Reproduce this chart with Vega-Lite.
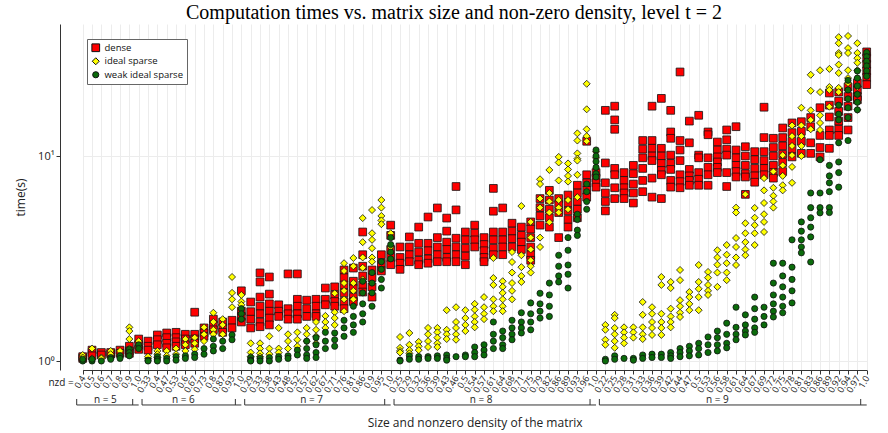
{
"$schema":"https://vega.github.io/schema/vega-lite/v6.json",
"width":826,"height":346,
"autosize":{"type":"none"},
"padding":{"left":60,"top":24,"right":2,"bottom":63},
"background":"white",
"title":{"text":"Computation times vs. matrix size and non-zero density, level t = 2","font":"Liberation Serif","fontSize":20,"fontWeight":"normal","anchor":"middle","frame":"group","dx":-19,"offset":1,"color":"black"},
"config":{"view":{"stroke":null},"axis":{"domainColor":"#333","tickColor":"#333","gridColor":"#ececec","labelColor":"#222","titleColor":"#222","labelFont":"Open Sans","titleFont":"Open Sans","titleFontWeight":"normal"}},
"layer":[
{"data":{"values":[
{"x":"5|0.4","s":"d","t":1.05},{"x":"5|0.4","s":"d","t":1.03},{"x":"5|0.4","s":"i","t":1.07},{"x":"5|0.4","s":"i","t":1.04},{"x":"5|0.4","s":"w","t":1.0},{"x":"5|0.4","s":"w","t":1.02},
{"x":"5|0.5","s":"d","t":1.10},{"x":"5|0.5","s":"d","t":1.13},{"x":"5|0.5","s":"d","t":1.06},{"x":"5|0.5","s":"i","t":1.15},{"x":"5|0.5","s":"i","t":1.03},{"x":"5|0.5","s":"w","t":1.0},{"x":"5|0.5","s":"w","t":1.02},
{"x":"5|0.6","s":"d","t":1.10},{"x":"5|0.6","s":"d","t":1.07},{"x":"5|0.6","s":"i","t":1.04},{"x":"5|0.6","s":"i","t":1.03},{"x":"5|0.6","s":"w","t":1.0},
{"x":"5|0.7","s":"d","t":1.08},{"x":"5|0.7","s":"d","t":1.10},{"x":"5|0.7","s":"i","t":1.12},{"x":"5|0.7","s":"i","t":1.08},{"x":"5|0.7","s":"w","t":1.04},{"x":"5|0.7","s":"w","t":1.02},
{"x":"5|0.8","s":"d","t":1.13},{"x":"5|0.8","s":"d","t":1.09},{"x":"5|0.8","s":"i","t":1.12},{"x":"5|0.8","s":"i","t":1.06},{"x":"5|0.8","s":"w","t":1.06},{"x":"5|0.8","s":"w","t":1.03},
{"x":"5|0.9","s":"d","t":1.18},{"x":"5|0.9","s":"d","t":1.12},{"x":"5|0.9","s":"d","t":1.09},{"x":"5|0.9","s":"i","t":1.46},{"x":"5|0.9","s":"i","t":1.40},{"x":"5|0.9","s":"i","t":1.28},{"x":"5|0.9","s":"i","t":1.15},{"x":"5|0.9","s":"w","t":1.14},{"x":"5|0.9","s":"w","t":1.10},{"x":"5|0.9","s":"w","t":1.06},
{"x":"5|1.0","s":"d","t":1.28},{"x":"5|1.0","s":"d","t":1.20},{"x":"5|1.0","s":"d","t":1.14},{"x":"5|1.0","s":"i","t":1.25},{"x":"5|1.0","s":"i","t":1.18},{"x":"5|1.0","s":"w","t":1.2},{"x":"5|1.0","s":"w","t":1.15},
{"x":"6|0.33","s":"d","t":1.25},{"x":"6|0.33","s":"d","t":1.18},{"x":"6|0.33","s":"d","t":1.13},{"x":"6|0.33","s":"i","t":1.03},{"x":"6|0.33","s":"i","t":1.05},{"x":"6|0.33","s":"w","t":1.01},{"x":"6|0.33","s":"w","t":1.0},
{"x":"6|0.4","s":"d","t":1.34},{"x":"6|0.4","s":"d","t":1.27},{"x":"6|0.4","s":"d","t":1.2},{"x":"6|0.4","s":"i","t":1.12},{"x":"6|0.4","s":"i","t":1.08},{"x":"6|0.4","s":"i","t":1.04},{"x":"6|0.4","s":"w","t":1.05},{"x":"6|0.4","s":"w","t":1.02},{"x":"6|0.4","s":"w","t":1.0},
{"x":"6|0.47","s":"d","t":1.37},{"x":"6|0.47","s":"d","t":1.3},{"x":"6|0.47","s":"d","t":1.22},{"x":"6|0.47","s":"d","t":1.16},{"x":"6|0.47","s":"i","t":1.12},{"x":"6|0.47","s":"i","t":1.06},{"x":"6|0.47","s":"w","t":1.03},{"x":"6|0.47","s":"w","t":1.0},
{"x":"6|0.53","s":"d","t":1.38},{"x":"6|0.53","s":"d","t":1.3},{"x":"6|0.53","s":"d","t":1.24},{"x":"6|0.53","s":"d","t":1.18},{"x":"6|0.53","s":"i","t":1.15},{"x":"6|0.53","s":"i","t":1.08},{"x":"6|0.53","s":"w","t":1.05},{"x":"6|0.53","s":"w","t":1.01},
{"x":"6|0.6","s":"d","t":1.35},{"x":"6|0.6","s":"d","t":1.28},{"x":"6|0.6","s":"d","t":1.2},{"x":"6|0.6","s":"i","t":1.28},{"x":"6|0.6","s":"i","t":1.2},{"x":"6|0.6","s":"i","t":1.12},{"x":"6|0.6","s":"w","t":1.06},{"x":"6|0.6","s":"w","t":1.03},
{"x":"6|0.67","s":"d","t":1.73},{"x":"6|0.67","s":"d","t":1.35},{"x":"6|0.67","s":"d","t":1.28},{"x":"6|0.67","s":"d","t":1.22},{"x":"6|0.67","s":"i","t":1.3},{"x":"6|0.67","s":"i","t":1.22},{"x":"6|0.67","s":"i","t":1.14},{"x":"6|0.67","s":"w","t":1.08},{"x":"6|0.67","s":"w","t":1.04},
{"x":"6|0.73","s":"d","t":1.45},{"x":"6|0.73","s":"d","t":1.37},{"x":"6|0.73","s":"d","t":1.32},{"x":"6|0.73","s":"i","t":1.46},{"x":"6|0.73","s":"i","t":1.35},{"x":"6|0.73","s":"i","t":1.25},{"x":"6|0.73","s":"w","t":1.15},{"x":"6|0.73","s":"w","t":1.08},
{"x":"6|0.8","s":"d","t":1.6},{"x":"6|0.8","s":"d","t":1.5},{"x":"6|0.8","s":"d","t":1.42},{"x":"6|0.8","s":"i","t":1.72},{"x":"6|0.8","s":"i","t":1.55},{"x":"6|0.8","s":"i","t":1.42},{"x":"6|0.8","s":"i","t":1.35},{"x":"6|0.8","s":"w","t":1.28},{"x":"6|0.8","s":"w","t":1.18},{"x":"6|0.8","s":"w","t":1.12},
{"x":"6|0.87","s":"d","t":1.55},{"x":"6|0.87","s":"d","t":1.45},{"x":"6|0.87","s":"d","t":1.38},{"x":"6|0.87","s":"i","t":1.6},{"x":"6|0.87","s":"i","t":1.5},{"x":"6|0.87","s":"i","t":1.35},{"x":"6|0.87","s":"w","t":1.25},{"x":"6|0.87","s":"w","t":1.15},
{"x":"6|0.93","s":"d","t":1.58},{"x":"6|0.93","s":"d","t":1.45},{"x":"6|0.93","s":"i","t":2.57},{"x":"6|0.93","s":"i","t":2.15},{"x":"6|0.93","s":"i","t":2.0},{"x":"6|0.93","s":"i","t":1.83},{"x":"6|0.93","s":"w","t":1.34},{"x":"6|0.93","s":"w","t":1.27},
{"x":"6|1.0","s":"d","t":2.2},{"x":"6|1.0","s":"d","t":1.75},{"x":"6|1.0","s":"d","t":1.65},{"x":"6|1.0","s":"d","t":1.55},{"x":"6|1.0","s":"i","t":2.1},{"x":"6|1.0","s":"i","t":1.95},{"x":"6|1.0","s":"i","t":1.88},{"x":"6|1.0","s":"w","t":1.8},{"x":"6|1.0","s":"w","t":1.7},{"x":"6|1.0","s":"w","t":1.6},
{"x":"7|0.29","s":"d","t":1.94},{"x":"7|0.29","s":"d","t":1.74},{"x":"7|0.29","s":"d","t":1.6},{"x":"7|0.29","s":"d","t":1.45},{"x":"7|0.29","s":"i","t":1.22},{"x":"7|0.29","s":"i","t":1.1},{"x":"7|0.29","s":"i","t":1.05},{"x":"7|0.29","s":"w","t":1.04},{"x":"7|0.29","s":"w","t":1.01},{"x":"7|0.29","s":"w","t":1.0},
{"x":"7|0.33","s":"d","t":2.69},{"x":"7|0.33","s":"d","t":2.43},{"x":"7|0.33","s":"d","t":2.05},{"x":"7|0.33","s":"d","t":1.85},{"x":"7|0.33","s":"d","t":1.7},{"x":"7|0.33","s":"d","t":1.55},{"x":"7|0.33","s":"d","t":1.47},{"x":"7|0.33","s":"i","t":1.22},{"x":"7|0.33","s":"i","t":1.15},{"x":"7|0.33","s":"i","t":1.09},{"x":"7|0.33","s":"i","t":1.05},{"x":"7|0.33","s":"w","t":1.03},{"x":"7|0.33","s":"w","t":1.0},
{"x":"7|0.38","s":"d","t":2.57},{"x":"7|0.38","s":"d","t":2.12},{"x":"7|0.38","s":"d","t":1.9},{"x":"7|0.38","s":"d","t":1.75},{"x":"7|0.38","s":"d","t":1.62},{"x":"7|0.38","s":"d","t":1.5},{"x":"7|0.38","s":"i","t":1.32},{"x":"7|0.38","s":"i","t":1.15},{"x":"7|0.38","s":"i","t":1.08},{"x":"7|0.38","s":"w","t":1.04},{"x":"7|0.38","s":"w","t":1.0},
{"x":"7|0.43","s":"d","t":1.88},{"x":"7|0.43","s":"d","t":1.75},{"x":"7|0.43","s":"d","t":1.65},{"x":"7|0.43","s":"i","t":1.45},{"x":"7|0.43","s":"i","t":1.15},{"x":"7|0.43","s":"i","t":1.1},{"x":"7|0.43","s":"w","t":1.05},{"x":"7|0.43","s":"w","t":1.02},
{"x":"7|0.48","s":"d","t":2.66},{"x":"7|0.48","s":"d","t":1.8},{"x":"7|0.48","s":"d","t":1.7},{"x":"7|0.48","s":"d","t":1.6},{"x":"7|0.48","s":"i","t":1.35},{"x":"7|0.48","s":"i","t":1.25},{"x":"7|0.48","s":"i","t":1.15},{"x":"7|0.48","s":"w","t":1.06},{"x":"7|0.48","s":"w","t":1.03},
{"x":"7|0.52","s":"d","t":2.66},{"x":"7|0.52","s":"d","t":2.0},{"x":"7|0.52","s":"d","t":1.85},{"x":"7|0.52","s":"d","t":1.7},{"x":"7|0.52","s":"d","t":1.6},{"x":"7|0.52","s":"i","t":1.38},{"x":"7|0.52","s":"i","t":1.27},{"x":"7|0.52","s":"i","t":1.18},{"x":"7|0.52","s":"w","t":1.13},{"x":"7|0.52","s":"w","t":1.07},
{"x":"7|0.57","s":"d","t":1.98},{"x":"7|0.57","s":"d","t":1.8},{"x":"7|0.57","s":"d","t":1.65},{"x":"7|0.57","s":"i","t":1.45},{"x":"7|0.57","s":"i","t":1.35},{"x":"7|0.57","s":"i","t":1.25},{"x":"7|0.57","s":"w","t":1.25},{"x":"7|0.57","s":"w","t":1.15},{"x":"7|0.57","s":"w","t":1.07},{"x":"7|0.57","s":"w","t":1.03},
{"x":"7|0.62","s":"d","t":2.0},{"x":"7|0.62","s":"d","t":1.85},{"x":"7|0.62","s":"d","t":1.7},{"x":"7|0.62","s":"d","t":1.65},{"x":"7|0.62","s":"i","t":1.55},{"x":"7|0.62","s":"i","t":1.42},{"x":"7|0.62","s":"i","t":1.32},{"x":"7|0.62","s":"i","t":1.22},{"x":"7|0.62","s":"w","t":1.3},{"x":"7|0.62","s":"w","t":1.2},{"x":"7|0.62","s":"w","t":1.1},{"x":"7|0.62","s":"w","t":1.04},
{"x":"7|0.67","s":"d","t":2.27},{"x":"7|0.67","s":"d","t":2.0},{"x":"7|0.67","s":"d","t":1.88},{"x":"7|0.67","s":"i","t":1.66},{"x":"7|0.67","s":"i","t":1.55},{"x":"7|0.67","s":"i","t":1.45},{"x":"7|0.67","s":"w","t":1.38},{"x":"7|0.67","s":"w","t":1.25},{"x":"7|0.67","s":"w","t":1.15},
{"x":"7|0.71","s":"d","t":2.3},{"x":"7|0.71","s":"d","t":2.1},{"x":"7|0.71","s":"d","t":1.95},{"x":"7|0.71","s":"d","t":1.85},{"x":"7|0.71","s":"i","t":2.14},{"x":"7|0.71","s":"i","t":1.73},{"x":"7|0.71","s":"i","t":1.62},{"x":"7|0.71","s":"i","t":1.5},{"x":"7|0.71","s":"w","t":1.37},{"x":"7|0.71","s":"w","t":1.27},{"x":"7|0.71","s":"w","t":1.18},
{"x":"7|0.76","s":"d","t":2.78},{"x":"7|0.76","s":"d","t":2.55},{"x":"7|0.76","s":"d","t":2.35},{"x":"7|0.76","s":"d","t":2.15},{"x":"7|0.76","s":"d","t":1.95},{"x":"7|0.76","s":"d","t":1.8},{"x":"7|0.76","s":"i","t":3.0},{"x":"7|0.76","s":"i","t":2.75},{"x":"7|0.76","s":"i","t":2.4},{"x":"7|0.76","s":"i","t":2.2},{"x":"7|0.76","s":"i","t":2.0},{"x":"7|0.76","s":"i","t":1.75},{"x":"7|0.76","s":"w","t":1.58},{"x":"7|0.76","s":"w","t":1.45},{"x":"7|0.76","s":"w","t":1.32},
{"x":"7|0.81","s":"d","t":2.84},{"x":"7|0.81","s":"d","t":2.45},{"x":"7|0.81","s":"d","t":2.25},{"x":"7|0.81","s":"d","t":2.05},{"x":"7|0.81","s":"d","t":1.95},{"x":"7|0.81","s":"i","t":3.18},{"x":"7|0.81","s":"i","t":2.9},{"x":"7|0.81","s":"i","t":2.4},{"x":"7|0.81","s":"i","t":2.2},{"x":"7|0.81","s":"i","t":2.0},{"x":"7|0.81","s":"w","t":1.85},{"x":"7|0.81","s":"w","t":1.65},{"x":"7|0.81","s":"w","t":1.5},{"x":"7|0.81","s":"w","t":1.38},
{"x":"7|0.86","s":"d","t":4.26},{"x":"7|0.86","s":"d","t":3.3},{"x":"7|0.86","s":"d","t":2.9},{"x":"7|0.86","s":"d","t":2.6},{"x":"7|0.86","s":"d","t":2.35},{"x":"7|0.86","s":"d","t":2.17},{"x":"7|0.86","s":"i","t":4.98},{"x":"7|0.86","s":"i","t":3.8},{"x":"7|0.86","s":"i","t":3.2},{"x":"7|0.86","s":"i","t":2.85},{"x":"7|0.86","s":"i","t":2.5},{"x":"7|0.86","s":"w","t":2.45},{"x":"7|0.86","s":"w","t":2.15},{"x":"7|0.86","s":"w","t":1.9},{"x":"7|0.86","s":"w","t":1.7},{"x":"7|0.86","s":"w","t":1.55},
{"x":"7|0.9","s":"d","t":2.78},{"x":"7|0.9","s":"d","t":2.55},{"x":"7|0.9","s":"d","t":2.3},{"x":"7|0.9","s":"d","t":2.05},{"x":"7|0.9","s":"i","t":5.45},{"x":"7|0.9","s":"i","t":4.2},{"x":"7|0.9","s":"i","t":3.9},{"x":"7|0.9","s":"i","t":3.55},{"x":"7|0.9","s":"i","t":3.2},{"x":"7|0.9","s":"i","t":3.05},{"x":"7|0.9","s":"w","t":2.7},{"x":"7|0.9","s":"w","t":2.4},{"x":"7|0.9","s":"w","t":2.15},{"x":"7|0.9","s":"w","t":1.85},
{"x":"7|0.95","s":"d","t":3.3},{"x":"7|0.95","s":"d","t":3.0},{"x":"7|0.95","s":"d","t":2.75},{"x":"7|0.95","s":"i","t":6.1},{"x":"7|0.95","s":"i","t":5.6},{"x":"7|0.95","s":"i","t":5.1},{"x":"7|0.95","s":"i","t":4.85},{"x":"7|0.95","s":"i","t":4.65},{"x":"7|0.95","s":"w","t":3.05},{"x":"7|0.95","s":"w","t":2.8},{"x":"7|0.95","s":"w","t":2.5},{"x":"7|0.95","s":"w","t":2.27},
{"x":"7|1.0","s":"d","t":4.6},{"x":"7|1.0","s":"d","t":4.1},{"x":"7|1.0","s":"d","t":3.5},{"x":"7|1.0","s":"d","t":3.2},{"x":"7|1.0","s":"d","t":2.95},{"x":"7|1.0","s":"i","t":4.2},{"x":"7|1.0","s":"i","t":3.6},{"x":"7|1.0","s":"w","t":4.0},{"x":"7|1.0","s":"w","t":3.7},{"x":"7|1.0","s":"w","t":3.4},{"x":"7|1.0","s":"w","t":3.15},
{"x":"8|0.25","s":"d","t":3.6},{"x":"8|0.25","s":"d","t":3.2},{"x":"8|0.25","s":"d","t":3.0},{"x":"8|0.25","s":"d","t":2.8},{"x":"8|0.25","s":"i","t":1.31},{"x":"8|0.25","s":"i","t":1.16},{"x":"8|0.25","s":"i","t":1.12},{"x":"8|0.25","s":"i","t":1.1},{"x":"8|0.25","s":"w","t":1.01},{"x":"8|0.25","s":"w","t":1.0},
{"x":"8|0.29","s":"d","t":4.03},{"x":"8|0.29","s":"d","t":3.6},{"x":"8|0.29","s":"d","t":3.3},{"x":"8|0.29","s":"d","t":3.05},{"x":"8|0.29","s":"i","t":1.37},{"x":"8|0.29","s":"i","t":1.2},{"x":"8|0.29","s":"i","t":1.13},{"x":"8|0.29","s":"i","t":1.09},{"x":"8|0.29","s":"w","t":1.06},{"x":"8|0.29","s":"w","t":1.02},
{"x":"8|0.32","s":"d","t":4.5},{"x":"8|0.32","s":"d","t":3.75},{"x":"8|0.32","s":"d","t":3.4},{"x":"8|0.32","s":"d","t":3.1},{"x":"8|0.32","s":"d","t":2.95},{"x":"8|0.32","s":"i","t":1.24},{"x":"8|0.32","s":"i","t":1.18},{"x":"8|0.32","s":"i","t":1.13},{"x":"8|0.32","s":"w","t":1.05},{"x":"8|0.32","s":"w","t":1.02},
{"x":"8|0.36","s":"d","t":5.04},{"x":"8|0.36","s":"d","t":3.75},{"x":"8|0.36","s":"d","t":3.45},{"x":"8|0.36","s":"d","t":3.15},{"x":"8|0.36","s":"d","t":3.0},{"x":"8|0.36","s":"i","t":1.45},{"x":"8|0.36","s":"i","t":1.35},{"x":"8|0.36","s":"i","t":1.25},{"x":"8|0.36","s":"i","t":1.17},{"x":"8|0.36","s":"w","t":1.05},{"x":"8|0.36","s":"w","t":1.03},
{"x":"8|0.39","s":"d","t":5.58},{"x":"8|0.39","s":"d","t":4.0},{"x":"8|0.39","s":"d","t":3.6},{"x":"8|0.39","s":"d","t":3.3},{"x":"8|0.39","s":"d","t":3.05},{"x":"8|0.39","s":"i","t":1.45},{"x":"8|0.39","s":"i","t":1.38},{"x":"8|0.39","s":"i","t":1.3},{"x":"8|0.39","s":"i","t":1.22},{"x":"8|0.39","s":"i","t":1.17},{"x":"8|0.39","s":"w","t":1.06},{"x":"8|0.39","s":"w","t":1.03},
{"x":"8|0.43","s":"d","t":4.98},{"x":"8|0.43","s":"d","t":4.3},{"x":"8|0.43","s":"d","t":3.8},{"x":"8|0.43","s":"d","t":3.5},{"x":"8|0.43","s":"d","t":3.2},{"x":"8|0.43","s":"d","t":3.05},{"x":"8|0.43","s":"i","t":1.77},{"x":"8|0.43","s":"i","t":1.42},{"x":"8|0.43","s":"i","t":1.35},{"x":"8|0.43","s":"i","t":1.28},{"x":"8|0.43","s":"w","t":1.07},{"x":"8|0.43","s":"w","t":1.03},{"x":"8|0.43","s":"w","t":1.01},
{"x":"8|0.46","s":"d","t":7.1},{"x":"8|0.46","s":"d","t":5.46},{"x":"8|0.46","s":"d","t":3.97},{"x":"8|0.46","s":"d","t":3.6},{"x":"8|0.46","s":"d","t":3.3},{"x":"8|0.46","s":"d","t":3.05},{"x":"8|0.46","s":"i","t":1.83},{"x":"8|0.46","s":"i","t":1.55},{"x":"8|0.46","s":"i","t":1.45},{"x":"8|0.46","s":"i","t":1.35},{"x":"8|0.46","s":"i","t":1.27},{"x":"8|0.46","s":"w","t":1.05},
{"x":"8|0.5","s":"d","t":4.26},{"x":"8|0.5","s":"d","t":3.9},{"x":"8|0.5","s":"d","t":3.55},{"x":"8|0.5","s":"d","t":3.25},{"x":"8|0.5","s":"d","t":2.95},{"x":"8|0.5","s":"i","t":1.77},{"x":"8|0.5","s":"i","t":1.62},{"x":"8|0.5","s":"i","t":1.5},{"x":"8|0.5","s":"i","t":1.4},{"x":"8|0.5","s":"w","t":1.07},{"x":"8|0.5","s":"w","t":1.05},
{"x":"8|0.54","s":"d","t":4.6},{"x":"8|0.54","s":"d","t":4.2},{"x":"8|0.54","s":"d","t":3.9},{"x":"8|0.54","s":"d","t":3.6},{"x":"8|0.54","s":"i","t":1.9},{"x":"8|0.54","s":"i","t":1.78},{"x":"8|0.54","s":"i","t":1.65},{"x":"8|0.54","s":"i","t":1.55},{"x":"8|0.54","s":"i","t":1.46},{"x":"8|0.54","s":"w","t":1.17},{"x":"8|0.54","s":"w","t":1.1},{"x":"8|0.54","s":"w","t":1.05},
{"x":"8|0.57","s":"d","t":4.0},{"x":"8|0.57","s":"d","t":3.7},{"x":"8|0.57","s":"d","t":3.45},{"x":"8|0.57","s":"d","t":3.2},{"x":"8|0.57","s":"d","t":3.05},{"x":"8|0.57","s":"i","t":2.05},{"x":"8|0.57","s":"i","t":1.83},{"x":"8|0.57","s":"i","t":1.7},{"x":"8|0.57","s":"i","t":1.6},{"x":"8|0.57","s":"w","t":1.2},{"x":"8|0.57","s":"w","t":1.13},{"x":"8|0.57","s":"w","t":1.07},
{"x":"8|0.61","s":"d","t":6.95},{"x":"8|0.61","s":"d","t":5.38},{"x":"8|0.61","s":"d","t":4.26},{"x":"8|0.61","s":"d","t":3.9},{"x":"8|0.61","s":"d","t":3.55},{"x":"8|0.61","s":"d","t":3.3},{"x":"8|0.61","s":"i","t":3.18},{"x":"8|0.61","s":"i","t":2.54},{"x":"8|0.61","s":"i","t":2.35},{"x":"8|0.61","s":"i","t":2.0},{"x":"8|0.61","s":"i","t":1.85},{"x":"8|0.61","s":"i","t":1.75},{"x":"8|0.61","s":"w","t":1.55},{"x":"8|0.61","s":"w","t":1.35},{"x":"8|0.61","s":"w","t":1.25},{"x":"8|0.61","s":"w","t":1.15},
{"x":"8|0.64","s":"d","t":5.58},{"x":"8|0.64","s":"d","t":4.26},{"x":"8|0.64","s":"d","t":3.9},{"x":"8|0.64","s":"d","t":3.6},{"x":"8|0.64","s":"d","t":3.3},{"x":"8|0.64","s":"i","t":2.45},{"x":"8|0.64","s":"i","t":2.3},{"x":"8|0.64","s":"i","t":2.15},{"x":"8|0.64","s":"i","t":2.0},{"x":"8|0.64","s":"i","t":1.85},{"x":"8|0.64","s":"i","t":1.75},{"x":"8|0.64","s":"w","t":1.4},{"x":"8|0.64","s":"w","t":1.3},{"x":"8|0.64","s":"w","t":1.2},{"x":"8|0.64","s":"w","t":1.15},
{"x":"8|0.68","s":"d","t":4.7},{"x":"8|0.68","s":"d","t":4.3},{"x":"8|0.68","s":"d","t":3.95},{"x":"8|0.68","s":"d","t":3.6},{"x":"8|0.68","s":"i","t":3.4},{"x":"8|0.68","s":"i","t":3.04},{"x":"8|0.68","s":"i","t":2.7},{"x":"8|0.68","s":"i","t":2.4},{"x":"8|0.68","s":"i","t":2.2},{"x":"8|0.68","s":"i","t":2.0},{"x":"8|0.68","s":"w","t":1.58},{"x":"8|0.68","s":"w","t":1.45},{"x":"8|0.68","s":"w","t":1.35},{"x":"8|0.68","s":"w","t":1.27},
{"x":"8|0.71","s":"d","t":4.5},{"x":"8|0.71","s":"d","t":4.1},{"x":"8|0.71","s":"d","t":3.8},{"x":"8|0.71","s":"d","t":3.5},{"x":"8|0.71","s":"i","t":5.7},{"x":"8|0.71","s":"i","t":3.28},{"x":"8|0.71","s":"i","t":2.87},{"x":"8|0.71","s":"i","t":2.6},{"x":"8|0.71","s":"i","t":2.43},{"x":"8|0.71","s":"w","t":1.72},{"x":"8|0.71","s":"w","t":1.55},{"x":"8|0.71","s":"w","t":1.45},{"x":"8|0.71","s":"w","t":1.37},
{"x":"8|0.75","s":"d","t":4.77},{"x":"8|0.75","s":"d","t":4.4},{"x":"8|0.75","s":"d","t":4.0},{"x":"8|0.75","s":"d","t":3.6},{"x":"8|0.75","s":"d","t":3.3},{"x":"8|0.75","s":"d","t":3.1},{"x":"8|0.75","s":"i","t":4.77},{"x":"8|0.75","s":"i","t":4.0},{"x":"8|0.75","s":"i","t":3.5},{"x":"8|0.75","s":"i","t":3.1},{"x":"8|0.75","s":"i","t":2.9},{"x":"8|0.75","s":"i","t":2.7},{"x":"8|0.75","s":"w","t":1.92},{"x":"8|0.75","s":"w","t":1.7},{"x":"8|0.75","s":"w","t":1.55},{"x":"8|0.75","s":"w","t":1.42},
{"x":"8|0.79","s":"d","t":6.2},{"x":"8|0.79","s":"d","t":5.6},{"x":"8|0.79","s":"d","t":5.1},{"x":"8|0.79","s":"d","t":4.6},{"x":"8|0.79","s":"i","t":7.7},{"x":"8|0.79","s":"i","t":7.3},{"x":"8|0.79","s":"i","t":6.2},{"x":"8|0.79","s":"i","t":5.6},{"x":"8|0.79","s":"i","t":4.0},{"x":"8|0.79","s":"i","t":3.6},{"x":"8|0.79","s":"w","t":2.14},{"x":"8|0.79","s":"w","t":1.9},{"x":"8|0.79","s":"w","t":1.75},{"x":"8|0.79","s":"w","t":1.62},
{"x":"8|0.82","s":"d","t":6.8},{"x":"8|0.82","s":"d","t":6.1},{"x":"8|0.82","s":"d","t":5.5},{"x":"8|0.82","s":"d","t":5.0},{"x":"8|0.82","s":"d","t":4.5},{"x":"8|0.82","s":"i","t":8.55},{"x":"8|0.82","s":"i","t":6.6},{"x":"8|0.82","s":"i","t":6.0},{"x":"8|0.82","s":"i","t":5.3},{"x":"8|0.82","s":"i","t":4.75},{"x":"8|0.82","s":"w","t":2.4},{"x":"8|0.82","s":"w","t":2.1},{"x":"8|0.82","s":"w","t":1.85},{"x":"8|0.82","s":"w","t":1.65},
{"x":"8|0.86","s":"d","t":6.2},{"x":"8|0.86","s":"d","t":5.8},{"x":"8|0.86","s":"d","t":5.3},{"x":"8|0.86","s":"d","t":4.0},{"x":"8|0.86","s":"i","t":9.9},{"x":"8|0.86","s":"i","t":9.3},{"x":"8|0.86","s":"i","t":7.6},{"x":"8|0.86","s":"i","t":6.1},{"x":"8|0.86","s":"i","t":5.6},{"x":"8|0.86","s":"i","t":5.3},{"x":"8|0.86","s":"w","t":3.28},{"x":"8|0.86","s":"w","t":2.9},{"x":"8|0.86","s":"w","t":2.6},{"x":"8|0.86","s":"w","t":2.43},
{"x":"8|0.89","s":"d","t":6.45},{"x":"8|0.89","s":"d","t":5.9},{"x":"8|0.89","s":"d","t":5.4},{"x":"8|0.89","s":"d","t":4.9},{"x":"8|0.89","s":"d","t":4.5},{"x":"8|0.89","s":"i","t":9.2},{"x":"8|0.89","s":"i","t":8.6},{"x":"8|0.89","s":"i","t":8.0},{"x":"8|0.89","s":"i","t":7.5},{"x":"8|0.89","s":"i","t":6.1},{"x":"8|0.89","s":"i","t":5.5},{"x":"8|0.89","s":"w","t":4.0},{"x":"8|0.89","s":"w","t":3.47},{"x":"8|0.89","s":"w","t":2.94},{"x":"8|0.89","s":"w","t":2.65},{"x":"8|0.89","s":"w","t":2.27},
{"x":"8|0.93","s":"d","t":7.2},{"x":"8|0.93","s":"d","t":6.6},{"x":"8|0.93","s":"d","t":6.0},{"x":"8|0.93","s":"d","t":5.5},{"x":"8|0.93","s":"d","t":5.0},{"x":"8|0.93","s":"i","t":12.9},{"x":"8|0.93","s":"i","t":11.9},{"x":"8|0.93","s":"i","t":10.3},{"x":"8|0.93","s":"i","t":9.7},{"x":"8|0.93","s":"i","t":9.5},{"x":"8|0.93","s":"i","t":8.1},{"x":"8|0.93","s":"i","t":6.3},{"x":"8|0.93","s":"w","t":5.2},{"x":"8|0.93","s":"w","t":4.9},{"x":"8|0.93","s":"w","t":4.35},{"x":"8|0.93","s":"w","t":4.1},
{"x":"8|0.96","s":"d","t":11.8},{"x":"8|0.96","s":"d","t":8.1},{"x":"8|0.96","s":"d","t":7.4},{"x":"8|0.96","s":"d","t":6.8},{"x":"8|0.96","s":"d","t":6.3},{"x":"8|0.96","s":"i","t":22.5},{"x":"8|0.96","s":"i","t":16.9},{"x":"8|0.96","s":"i","t":13.5},{"x":"8|0.96","s":"i","t":12.5},{"x":"8|0.96","s":"i","t":11.8},{"x":"8|0.96","s":"w","t":7.3},{"x":"8|0.96","s":"w","t":6.7},{"x":"8|0.96","s":"w","t":6.0},{"x":"8|0.96","s":"w","t":5.5},
{"x":"8|1.0","s":"d","t":8.3},{"x":"8|1.0","s":"d","t":7.8},{"x":"8|1.0","s":"d","t":7.4},{"x":"8|1.0","s":"d","t":7.05},{"x":"8|1.0","s":"i","t":10.5},{"x":"8|1.0","s":"i","t":9.8},{"x":"8|1.0","s":"w","t":10.7},{"x":"8|1.0","s":"w","t":10.0},{"x":"8|1.0","s":"w","t":9.4},{"x":"8|1.0","s":"w","t":8.8},{"x":"8|1.0","s":"w","t":8.2},{"x":"8|1.0","s":"w","t":7.9},
{"x":"9|0.22","s":"d","t":16.7},{"x":"9|0.22","s":"d","t":9.25},{"x":"9|0.22","s":"d","t":7.4},{"x":"9|0.22","s":"d","t":6.6},{"x":"9|0.22","s":"d","t":6.0},{"x":"9|0.22","s":"d","t":5.4},{"x":"9|0.22","s":"i","t":1.5},{"x":"9|0.22","s":"i","t":1.42},{"x":"9|0.22","s":"i","t":1.27},{"x":"9|0.22","s":"i","t":1.2},{"x":"9|0.22","s":"w","t":1.02},{"x":"9|0.22","s":"w","t":1.0},
{"x":"9|0.25","s":"d","t":17.5},{"x":"9|0.25","s":"d","t":15.0},{"x":"9|0.25","s":"d","t":13.5},{"x":"9|0.25","s":"d","t":8.7},{"x":"9|0.25","s":"d","t":8.1},{"x":"9|0.25","s":"d","t":7.0},{"x":"9|0.25","s":"d","t":6.2},{"x":"9|0.25","s":"i","t":1.68},{"x":"9|0.25","s":"i","t":1.62},{"x":"9|0.25","s":"i","t":1.45},{"x":"9|0.25","s":"i","t":1.35},{"x":"9|0.25","s":"i","t":1.25},{"x":"9|0.25","s":"i","t":1.16},{"x":"9|0.25","s":"w","t":1.06},{"x":"9|0.25","s":"w","t":1.02},
{"x":"9|0.28","s":"d","t":8.3},{"x":"9|0.28","s":"d","t":7.6},{"x":"9|0.28","s":"d","t":7.0},{"x":"9|0.28","s":"d","t":6.6},{"x":"9|0.28","s":"d","t":6.2},{"x":"9|0.28","s":"i","t":1.46},{"x":"9|0.28","s":"i","t":1.38},{"x":"9|0.28","s":"i","t":1.3},{"x":"9|0.28","s":"i","t":1.22},{"x":"9|0.28","s":"w","t":1.03},
{"x":"9|0.31","s":"d","t":9.0},{"x":"9|0.31","s":"d","t":8.2},{"x":"9|0.31","s":"d","t":7.3},{"x":"9|0.31","s":"d","t":6.6},{"x":"9|0.31","s":"d","t":5.9},{"x":"9|0.31","s":"i","t":1.46},{"x":"9|0.31","s":"i","t":1.38},{"x":"9|0.31","s":"i","t":1.3},{"x":"9|0.31","s":"w","t":1.03},{"x":"9|0.31","s":"w","t":1.01},
{"x":"9|0.33","s":"d","t":11.9},{"x":"9|0.33","s":"d","t":10.8},{"x":"9|0.33","s":"d","t":9.8},{"x":"9|0.33","s":"d","t":8.7},{"x":"9|0.33","s":"d","t":7.6},{"x":"9|0.33","s":"d","t":6.7},{"x":"9|0.33","s":"i","t":1.94},{"x":"9|0.33","s":"i","t":1.68},{"x":"9|0.33","s":"i","t":1.46},{"x":"9|0.33","s":"i","t":1.35},{"x":"9|0.33","s":"i","t":1.28},{"x":"9|0.33","s":"w","t":1.07},{"x":"9|0.33","s":"w","t":1.03},
{"x":"9|0.36","s":"d","t":17.5},{"x":"9|0.36","s":"d","t":11.9},{"x":"9|0.36","s":"d","t":10.9},{"x":"9|0.36","s":"d","t":10.0},{"x":"9|0.36","s":"d","t":9.5},{"x":"9|0.36","s":"d","t":7.8},{"x":"9|0.36","s":"d","t":6.3},{"x":"9|0.36","s":"i","t":1.83},{"x":"9|0.36","s":"i","t":1.7},{"x":"9|0.36","s":"i","t":1.55},{"x":"9|0.36","s":"i","t":1.45},{"x":"9|0.36","s":"i","t":1.34},{"x":"9|0.36","s":"w","t":1.08},{"x":"9|0.36","s":"w","t":1.04},
{"x":"9|0.39","s":"d","t":19.1},{"x":"9|0.39","s":"d","t":10.9},{"x":"9|0.39","s":"d","t":10.0},{"x":"9|0.39","s":"d","t":9.2},{"x":"9|0.39","s":"d","t":8.5},{"x":"9|0.39","s":"d","t":8.1},{"x":"9|0.39","s":"d","t":6.2},{"x":"9|0.39","s":"i","t":2.57},{"x":"9|0.39","s":"i","t":2.35},{"x":"9|0.39","s":"i","t":1.7},{"x":"9|0.39","s":"i","t":1.55},{"x":"9|0.39","s":"i","t":1.45},{"x":"9|0.39","s":"i","t":1.34},{"x":"9|0.39","s":"w","t":1.08},{"x":"9|0.39","s":"w","t":1.04},
{"x":"9|0.42","s":"d","t":16.7},{"x":"9|0.42","s":"d","t":13.1},{"x":"9|0.42","s":"d","t":12.2},{"x":"9|0.42","s":"d","t":10.1},{"x":"9|0.42","s":"d","t":9.2},{"x":"9|0.42","s":"d","t":8.6},{"x":"9|0.42","s":"d","t":7.6},{"x":"9|0.42","s":"d","t":7.05},{"x":"9|0.42","s":"i","t":2.43},{"x":"9|0.42","s":"i","t":2.27},{"x":"9|0.42","s":"i","t":1.8},{"x":"9|0.42","s":"i","t":1.65},{"x":"9|0.42","s":"i","t":1.55},{"x":"9|0.42","s":"i","t":1.46},{"x":"9|0.42","s":"w","t":1.1},{"x":"9|0.42","s":"w","t":1.06},{"x":"9|0.42","s":"w","t":1.03},
{"x":"9|0.44","s":"d","t":25.7},{"x":"9|0.44","s":"d","t":11.9},{"x":"9|0.44","s":"d","t":10.7},{"x":"9|0.44","s":"d","t":9.5},{"x":"9|0.44","s":"d","t":8.1},{"x":"9|0.44","s":"d","t":7.5},{"x":"9|0.44","s":"d","t":7.0},{"x":"9|0.44","s":"i","t":2.78},{"x":"9|0.44","s":"i","t":2.48},{"x":"9|0.44","s":"i","t":1.98},{"x":"9|0.44","s":"i","t":1.85},{"x":"9|0.44","s":"i","t":1.72},{"x":"9|0.44","s":"i","t":1.64},{"x":"9|0.44","s":"w","t":1.15},{"x":"9|0.44","s":"w","t":1.1},{"x":"9|0.44","s":"w","t":1.05},
{"x":"9|0.47","s":"d","t":14.8},{"x":"9|0.47","s":"d","t":11.6},{"x":"9|0.47","s":"d","t":8.6},{"x":"9|0.47","s":"d","t":8.0},{"x":"9|0.47","s":"d","t":7.6},{"x":"9|0.47","s":"d","t":7.2},{"x":"9|0.47","s":"i","t":2.17},{"x":"9|0.47","s":"i","t":2.05},{"x":"9|0.47","s":"i","t":1.9},{"x":"9|0.47","s":"i","t":1.77},{"x":"9|0.47","s":"w","t":1.18},{"x":"9|0.47","s":"w","t":1.12},{"x":"9|0.47","s":"w","t":1.06},
{"x":"9|0.5","s":"d","t":15.8},{"x":"9|0.5","s":"d","t":10.1},{"x":"9|0.5","s":"d","t":9.8},{"x":"9|0.5","s":"d","t":8.3},{"x":"9|0.5","s":"d","t":7.7},{"x":"9|0.5","s":"d","t":7.2},{"x":"9|0.5","s":"i","t":2.94},{"x":"9|0.5","s":"i","t":2.43},{"x":"9|0.5","s":"i","t":2.25},{"x":"9|0.5","s":"i","t":2.05},{"x":"9|0.5","s":"i","t":1.77},{"x":"9|0.5","s":"w","t":1.22},{"x":"9|0.5","s":"w","t":1.15},{"x":"9|0.5","s":"w","t":1.07},
{"x":"9|0.53","s":"d","t":13.1},{"x":"9|0.53","s":"d","t":12.7},{"x":"9|0.53","s":"d","t":9.8},{"x":"9|0.53","s":"d","t":8.8},{"x":"9|0.53","s":"d","t":8.1},{"x":"9|0.53","s":"d","t":7.2},{"x":"9|0.53","s":"i","t":2.72},{"x":"9|0.53","s":"i","t":2.55},{"x":"9|0.53","s":"i","t":2.35},{"x":"9|0.53","s":"i","t":2.2},{"x":"9|0.53","s":"i","t":2.1},{"x":"9|0.53","s":"w","t":1.31},{"x":"9|0.53","s":"w","t":1.2},{"x":"9|0.53","s":"w","t":1.1},
{"x":"9|0.56","s":"d","t":11.7},{"x":"9|0.56","s":"d","t":10.7},{"x":"9|0.56","s":"d","t":9.9},{"x":"9|0.56","s":"d","t":9.35},{"x":"9|0.56","s":"d","t":8.8},{"x":"9|0.56","s":"d","t":8.3},{"x":"9|0.56","s":"i","t":3.47},{"x":"9|0.56","s":"i","t":3.2},{"x":"9|0.56","s":"i","t":2.95},{"x":"9|0.56","s":"i","t":2.7},{"x":"9|0.56","s":"i","t":2.3},{"x":"9|0.56","s":"w","t":1.4},{"x":"9|0.56","s":"w","t":1.3},{"x":"9|0.56","s":"w","t":1.2},{"x":"9|0.56","s":"w","t":1.12},
{"x":"9|0.58","s":"d","t":13.4},{"x":"9|0.58","s":"d","t":12.0},{"x":"9|0.58","s":"d","t":10.8},{"x":"9|0.58","s":"d","t":10.1},{"x":"9|0.58","s":"d","t":8.3},{"x":"9|0.58","s":"d","t":7.1},{"x":"9|0.58","s":"i","t":3.68},{"x":"9|0.58","s":"i","t":3.3},{"x":"9|0.58","s":"i","t":3.0},{"x":"9|0.58","s":"i","t":2.7},{"x":"9|0.58","s":"i","t":2.48},{"x":"9|0.58","s":"w","t":1.53},{"x":"9|0.58","s":"w","t":1.35},{"x":"9|0.58","s":"w","t":1.22},{"x":"9|0.58","s":"w","t":1.16},
{"x":"9|0.61","s":"d","t":13.9},{"x":"9|0.61","s":"d","t":10.7},{"x":"9|0.61","s":"d","t":9.8},{"x":"9|0.61","s":"d","t":9.0},{"x":"9|0.61","s":"d","t":8.4},{"x":"9|0.61","s":"d","t":7.9},{"x":"9|0.61","s":"i","t":5.6},{"x":"9|0.61","s":"i","t":5.3},{"x":"9|0.61","s":"i","t":3.98},{"x":"9|0.61","s":"i","t":3.6},{"x":"9|0.61","s":"i","t":3.2},{"x":"9|0.61","s":"i","t":2.94},{"x":"9|0.61","s":"w","t":1.83},{"x":"9|0.61","s":"w","t":1.46},{"x":"9|0.61","s":"w","t":1.35},{"x":"9|0.61","s":"w","t":1.27},
{"x":"9|0.64","s":"d","t":11.1},{"x":"9|0.64","s":"d","t":10.0},{"x":"9|0.64","s":"d","t":9.0},{"x":"9|0.64","s":"d","t":8.2},{"x":"9|0.64","s":"d","t":7.9},{"x":"9|0.64","s":"d","t":6.5},{"x":"9|0.64","s":"i","t":6.5},{"x":"9|0.64","s":"i","t":4.7},{"x":"9|0.64","s":"i","t":4.2},{"x":"9|0.64","s":"i","t":3.8},{"x":"9|0.64","s":"i","t":3.5},{"x":"9|0.64","s":"i","t":3.28},{"x":"9|0.64","s":"w","t":1.68},{"x":"9|0.64","s":"w","t":1.5},{"x":"9|0.64","s":"w","t":1.4},{"x":"9|0.64","s":"w","t":1.34},
{"x":"9|0.67","s":"d","t":10.5},{"x":"9|0.67","s":"d","t":9.6},{"x":"9|0.67","s":"d","t":8.7},{"x":"9|0.67","s":"d","t":8.0},{"x":"9|0.67","s":"d","t":7.45},{"x":"9|0.67","s":"i","t":5.58},{"x":"9|0.67","s":"i","t":5.0},{"x":"9|0.67","s":"i","t":4.6},{"x":"9|0.67","s":"i","t":4.2},{"x":"9|0.67","s":"i","t":3.68},{"x":"9|0.67","s":"w","t":2.05},{"x":"9|0.67","s":"w","t":1.8},{"x":"9|0.67","s":"w","t":1.6},{"x":"9|0.67","s":"w","t":1.45},{"x":"9|0.67","s":"w","t":1.38},
{"x":"9|0.69","s":"d","t":17.3},{"x":"9|0.69","s":"d","t":12.3},{"x":"9|0.69","s":"d","t":10.5},{"x":"9|0.69","s":"d","t":9.5},{"x":"9|0.69","s":"d","t":8.7},{"x":"9|0.69","s":"d","t":8.1},{"x":"9|0.69","s":"i","t":7.8},{"x":"9|0.69","s":"i","t":6.8},{"x":"9|0.69","s":"i","t":5.9},{"x":"9|0.69","s":"i","t":5.2},{"x":"9|0.69","s":"i","t":4.77},{"x":"9|0.69","s":"i","t":4.26},{"x":"9|0.69","s":"w","t":1.83},{"x":"9|0.69","s":"w","t":1.65},{"x":"9|0.69","s":"w","t":1.5},
{"x":"9|0.72","s":"d","t":12.2},{"x":"9|0.72","s":"d","t":11.0},{"x":"9|0.72","s":"d","t":10.0},{"x":"9|0.72","s":"d","t":9.0},{"x":"9|0.72","s":"d","t":8.3},{"x":"9|0.72","s":"d","t":7.8},{"x":"9|0.72","s":"i","t":8.4},{"x":"9|0.72","s":"i","t":7.0},{"x":"9|0.72","s":"i","t":6.4},{"x":"9|0.72","s":"i","t":6.0},{"x":"9|0.72","s":"i","t":5.6},{"x":"9|0.72","s":"w","t":3.0},{"x":"9|0.72","s":"w","t":2.4},{"x":"9|0.72","s":"w","t":2.1},{"x":"9|0.72","s":"w","t":1.9},{"x":"9|0.72","s":"w","t":1.75},{"x":"9|0.72","s":"w","t":1.64},
{"x":"9|0.75","s":"d","t":13.7},{"x":"9|0.75","s":"d","t":12.3},{"x":"9|0.75","s":"d","t":11.2},{"x":"9|0.75","s":"d","t":10.2},{"x":"9|0.75","s":"d","t":9.3},{"x":"9|0.75","s":"d","t":8.4},{"x":"9|0.75","s":"i","t":10.1},{"x":"9|0.75","s":"i","t":9.0},{"x":"9|0.75","s":"i","t":8.0},{"x":"9|0.75","s":"i","t":7.2},{"x":"9|0.75","s":"i","t":6.8},{"x":"9|0.75","s":"w","t":3.0},{"x":"9|0.75","s":"w","t":2.6},{"x":"9|0.75","s":"w","t":2.3},{"x":"9|0.75","s":"w","t":2.05},{"x":"9|0.75","s":"w","t":1.85},{"x":"9|0.75","s":"w","t":1.72},
{"x":"9|0.78","s":"d","t":14.5},{"x":"9|0.78","s":"d","t":13.0},{"x":"9|0.78","s":"d","t":11.8},{"x":"9|0.78","s":"d","t":10.8},{"x":"9|0.78","s":"d","t":9.9},{"x":"9|0.78","s":"i","t":14.1},{"x":"9|0.78","s":"i","t":12.5},{"x":"9|0.78","s":"i","t":11.2},{"x":"9|0.78","s":"i","t":10.1},{"x":"9|0.78","s":"i","t":8.85},{"x":"9|0.78","s":"i","t":7.4},{"x":"9|0.78","s":"w","t":3.9},{"x":"9|0.78","s":"w","t":2.87},{"x":"9|0.78","s":"w","t":2.5},{"x":"9|0.78","s":"w","t":2.2},{"x":"9|0.78","s":"w","t":1.92},
{"x":"9|0.81","s":"d","t":14.7},{"x":"9|0.81","s":"d","t":13.2},{"x":"9|0.81","s":"d","t":11.8},{"x":"9|0.81","s":"d","t":10.3},{"x":"9|0.81","s":"i","t":17.2},{"x":"9|0.81","s":"i","t":14.1},{"x":"9|0.81","s":"i","t":12.5},{"x":"9|0.81","s":"i","t":11.2},{"x":"9|0.81","s":"i","t":10.0},{"x":"9|0.81","s":"w","t":4.77},{"x":"9|0.81","s":"w","t":4.3},{"x":"9|0.81","s":"w","t":3.9},{"x":"9|0.81","s":"w","t":3.6},{"x":"9|0.81","s":"w","t":3.37},
{"x":"9|0.83","s":"d","t":15.4},{"x":"9|0.83","s":"d","t":13.9},{"x":"9|0.83","s":"d","t":11.6},{"x":"9|0.83","s":"d","t":10.3},{"x":"9|0.83","s":"i","t":24.9},{"x":"9|0.83","s":"i","t":20.8},{"x":"9|0.83","s":"i","t":16.7},{"x":"9|0.83","s":"i","t":15.0},{"x":"9|0.83","s":"i","t":13.5},{"x":"9|0.83","s":"w","t":6.6},{"x":"9|0.83","s":"w","t":5.6},{"x":"9|0.83","s":"w","t":5.0},{"x":"9|0.83","s":"w","t":4.5},{"x":"9|0.83","s":"w","t":4.03},{"x":"9|0.83","s":"w","t":3.04},
{"x":"9|0.86","s":"d","t":17.2},{"x":"9|0.86","s":"d","t":12.6},{"x":"9|0.86","s":"d","t":11.0},{"x":"9|0.86","s":"d","t":9.9},{"x":"9|0.86","s":"i","t":26.2},{"x":"9|0.86","s":"i","t":20.5},{"x":"9|0.86","s":"i","t":15.8},{"x":"9|0.86","s":"i","t":14.5},{"x":"9|0.86","s":"i","t":13.4},{"x":"9|0.86","s":"w","t":9.6},{"x":"9|0.86","s":"w","t":6.6},{"x":"9|0.86","s":"w","t":5.6},{"x":"9|0.86","s":"w","t":5.28},
{"x":"9|0.89","s":"d","t":20.3},{"x":"9|0.89","s":"d","t":17.7},{"x":"9|0.89","s":"d","t":15.5},{"x":"9|0.89","s":"d","t":13.4},{"x":"9|0.89","s":"d","t":12.6},{"x":"9|0.89","s":"d","t":10.9},{"x":"9|0.89","s":"i","t":26.6},{"x":"9|0.89","s":"i","t":21.7},{"x":"9|0.89","s":"i","t":21.0},{"x":"9|0.89","s":"i","t":17.4},{"x":"9|0.89","s":"w","t":9.0},{"x":"9|0.89","s":"w","t":8.0},{"x":"9|0.89","s":"w","t":7.4},{"x":"9|0.89","s":"w","t":6.7},{"x":"9|0.89","s":"w","t":5.6},{"x":"9|0.89","s":"w","t":5.3},
{"x":"9|0.92","s":"d","t":20.5},{"x":"9|0.92","s":"d","t":18.5},{"x":"9|0.92","s":"d","t":16.5},{"x":"9|0.92","s":"d","t":14.8},{"x":"9|0.92","s":"d","t":13.5},{"x":"9|0.92","s":"d","t":12.6},{"x":"9|0.92","s":"i","t":38.0},{"x":"9|0.92","s":"i","t":35.5},{"x":"9|0.92","s":"i","t":31.8},{"x":"9|0.92","s":"i","t":31.1},{"x":"9|0.92","s":"i","t":27.9},{"x":"9|0.92","s":"i","t":25.4},{"x":"9|0.92","s":"i","t":21.5},{"x":"9|0.92","s":"i","t":20.5},{"x":"9|0.92","s":"w","t":17.7},{"x":"9|0.92","s":"w","t":16.0},{"x":"9|0.92","s":"w","t":15.0},{"x":"9|0.92","s":"w","t":11.6},{"x":"9|0.92","s":"w","t":9.35},{"x":"9|0.92","s":"w","t":8.3},{"x":"9|0.92","s":"w","t":7.05},
{"x":"9|0.94","s":"d","t":21.7},{"x":"9|0.94","s":"d","t":19.5},{"x":"9|0.94","s":"d","t":17.5},{"x":"9|0.94","s":"d","t":15.4},{"x":"9|0.94","s":"d","t":13.4},{"x":"9|0.94","s":"i","t":38.5},{"x":"9|0.94","s":"i","t":33.6},{"x":"9|0.94","s":"i","t":31.8},{"x":"9|0.94","s":"i","t":26.2},{"x":"9|0.94","s":"i","t":24.0},{"x":"9|0.94","s":"i","t":22.7},{"x":"9|0.94","s":"w","t":23.4},{"x":"9|0.94","s":"w","t":21.0},{"x":"9|0.94","s":"w","t":19.0},{"x":"9|0.94","s":"w","t":17.2},{"x":"9|0.94","s":"w","t":15.4},{"x":"9|0.94","s":"w","t":11.9},
{"x":"9|0.97","s":"d","t":22.7},{"x":"9|0.97","s":"d","t":21.0},{"x":"9|0.97","s":"d","t":19.5},{"x":"9|0.97","s":"d","t":18.8},{"x":"9|0.97","s":"i","t":35.5},{"x":"9|0.97","s":"i","t":31.8},{"x":"9|0.97","s":"i","t":30.0},{"x":"9|0.97","s":"i","t":28.5},{"x":"9|0.97","s":"i","t":26.2},{"x":"9|0.97","s":"i","t":24.0},{"x":"9|0.97","s":"i","t":21.7},{"x":"9|0.97","s":"i","t":18.3},{"x":"9|0.97","s":"i","t":16.8},{"x":"9|0.97","s":"w","t":26.0},{"x":"9|0.97","s":"w","t":24.0},{"x":"9|0.97","s":"w","t":22.0},{"x":"9|0.97","s":"w","t":20.0},{"x":"9|0.97","s":"w","t":18.3},{"x":"9|0.97","s":"w","t":16.8},
{"x":"9|1.0","s":"d","t":32.2},{"x":"9|1.0","s":"d","t":30.0},{"x":"9|1.0","s":"d","t":28.0},{"x":"9|1.0","s":"d","t":26.0},{"x":"9|1.0","s":"d","t":24.2},{"x":"9|1.0","s":"d","t":22.3},{"x":"9|1.0","s":"i","t":31.5},{"x":"9|1.0","s":"i","t":28.5},{"x":"9|1.0","s":"w","t":32.0},{"x":"9|1.0","s":"w","t":30.5},{"x":"9|1.0","s":"w","t":29.0},{"x":"9|1.0","s":"w","t":27.5},{"x":"9|1.0","s":"w","t":26.0},{"x":"9|1.0","s":"w","t":24.5}
]},
"mark":{"type":"point","filled":true,"opacity":1,"stroke":"#111","strokeWidth":0.8},
"encoding":{
"x":{"field":"x","type":"ordinal","scale":{"type":"point","padding":0,"range":[22.7,806.7],"domain":["5|0.4","5|0.5","5|0.6","5|0.7","5|0.8","5|0.9","5|1.0","6|0.33","6|0.4","6|0.47","6|0.53","6|0.6","6|0.67","6|0.73","6|0.8","6|0.87","6|0.93","6|1.0","7|0.29","7|0.33","7|0.38","7|0.43","7|0.48","7|0.52","7|0.57","7|0.62","7|0.67","7|0.71","7|0.76","7|0.81","7|0.86","7|0.9","7|0.95","7|1.0","8|0.25","8|0.29","8|0.32","8|0.36","8|0.39","8|0.43","8|0.46","8|0.5","8|0.54","8|0.57","8|0.61","8|0.64","8|0.68","8|0.71","8|0.75","8|0.79","8|0.82","8|0.86","8|0.89","8|0.93","8|0.96","8|1.0","9|0.22","9|0.25","9|0.28","9|0.31","9|0.33","9|0.36","9|0.39","9|0.42","9|0.44","9|0.47","9|0.5","9|0.53","9|0.56","9|0.58","9|0.61","9|0.64","9|0.67","9|0.69","9|0.72","9|0.75","9|0.78","9|0.81","9|0.83","9|0.86","9|0.89","9|0.92","9|0.94","9|0.97","9|1.0"]},
 "axis":{"title":"Size and nonzero density of the matrix","titleFontSize":12,"titlePadding":24,"labelExpr":"split(datum.value,'|')[1]","labelAngle":-60,"labelFontSize":9,"labelPadding":2,"labelOverlap":false,"tickSize":4,"grid":true}},
"y":{"field":"t","type":"quantitative","scale":{"type":"log","domain":[0.904,44.05],"nice":false},
 "axis":{"title":"time(s)","titleFontSize":12,"titlePadding":10,"values":[1,10],"labelExpr":"datum.value==1?'10⁰':'10¹'","labelFontSize":11,"tickSize":4,"grid":true}},
"shape":{"field":"s","type":"nominal","scale":{"domain":["d","i","w"],"range":["square","diamond","circle"]}},
"size":{"field":"s","type":"nominal","scale":{"domain":["d","i","w"],"range":[60,38,16]}},
"color":{"field":"s","type":"nominal","scale":{"domain":["d","i","w"],"range":["#ff0000","#ffff00","#0b6b0b"]},
 "legend":{"title":null,"orient":"none","legendX":27,"legendY":15,"labelExpr":"datum.value=='d'?'dense':datum.value=='i'?'ideal sparse':'weak ideal sparse'","labelFont":"Open Sans","labelFontSize":9.5,"labelColor":"#111","padding":4,"rowPadding":1.5,"labelOffset":4,"strokeColor":"#666","fillColor":"white","symbolStrokeColor":"#111","symbolStrokeWidth":1,"symbolOpacity":1}},
"order":{"field":"s","type":"nominal"}
}},
{"data":{"values":[{"n":"n = 5","a":"5|0.4","b":"5|1.0","m":"5|0.6","o":4},{"n":"n = 6","a":"6|0.33","b":"6|1.0","m":"6|0.6","o":-2},{"n":"n = 7","a":"7|0.29","b":"7|1.0","m":"7|0.57","o":5},{"n":"n = 8","a":"8|0.25","b":"8|1.0","m":"8|0.57","o":-3},{"n":"n = 9","a":"9|0.22","b":"9|1.0","m":"9|0.56","o":0}]},
 "layer":[
  {"mark":{"type":"rule","color":"#333","strokeWidth":1,"xOffset":-6},"encoding":{"x":{"field":"a","type":"ordinal"},"x2":{"field":"b"},"y":{"datum":0.6103,"type":"quantitative"}}},
  {"mark":{"type":"rule","color":"#333","strokeWidth":1,"xOffset":-6},"encoding":{"x":{"field":"a","type":"ordinal"},"y":{"datum":0.6527,"type":"quantitative"},"y2":{"datum":0.6103}}},
  {"mark":{"type":"rule","color":"#333","strokeWidth":1,"xOffset":-6},"encoding":{"x":{"field":"b","type":"ordinal"},"y":{"datum":0.6527,"type":"quantitative"},"y2":{"datum":0.6103}}},
  {"mark":{"type":"text","font":"Open Sans","fontSize":10,"color":"#222","baseline":"middle","align":"center"},"encoding":{"x":{"field":"m","type":"ordinal"},"y":{"datum":0.645,"type":"quantitative"},"text":{"field":"n"},"xOffset":{"field":"o","type":"quantitative","scale":null}}}
 ]},
{"data":{"values":[{"l":"nzd ="}]},
 "mark":{"type":"text","font":"Open Sans","fontSize":10,"color":"#222","baseline":"middle","align":"right","dx":-9},
 "encoding":{"x":{"datum":"5|0.4","type":"ordinal"},"y":{"datum":0.781,"type":"quantitative"},"text":{"field":"l"}}}
]
}
